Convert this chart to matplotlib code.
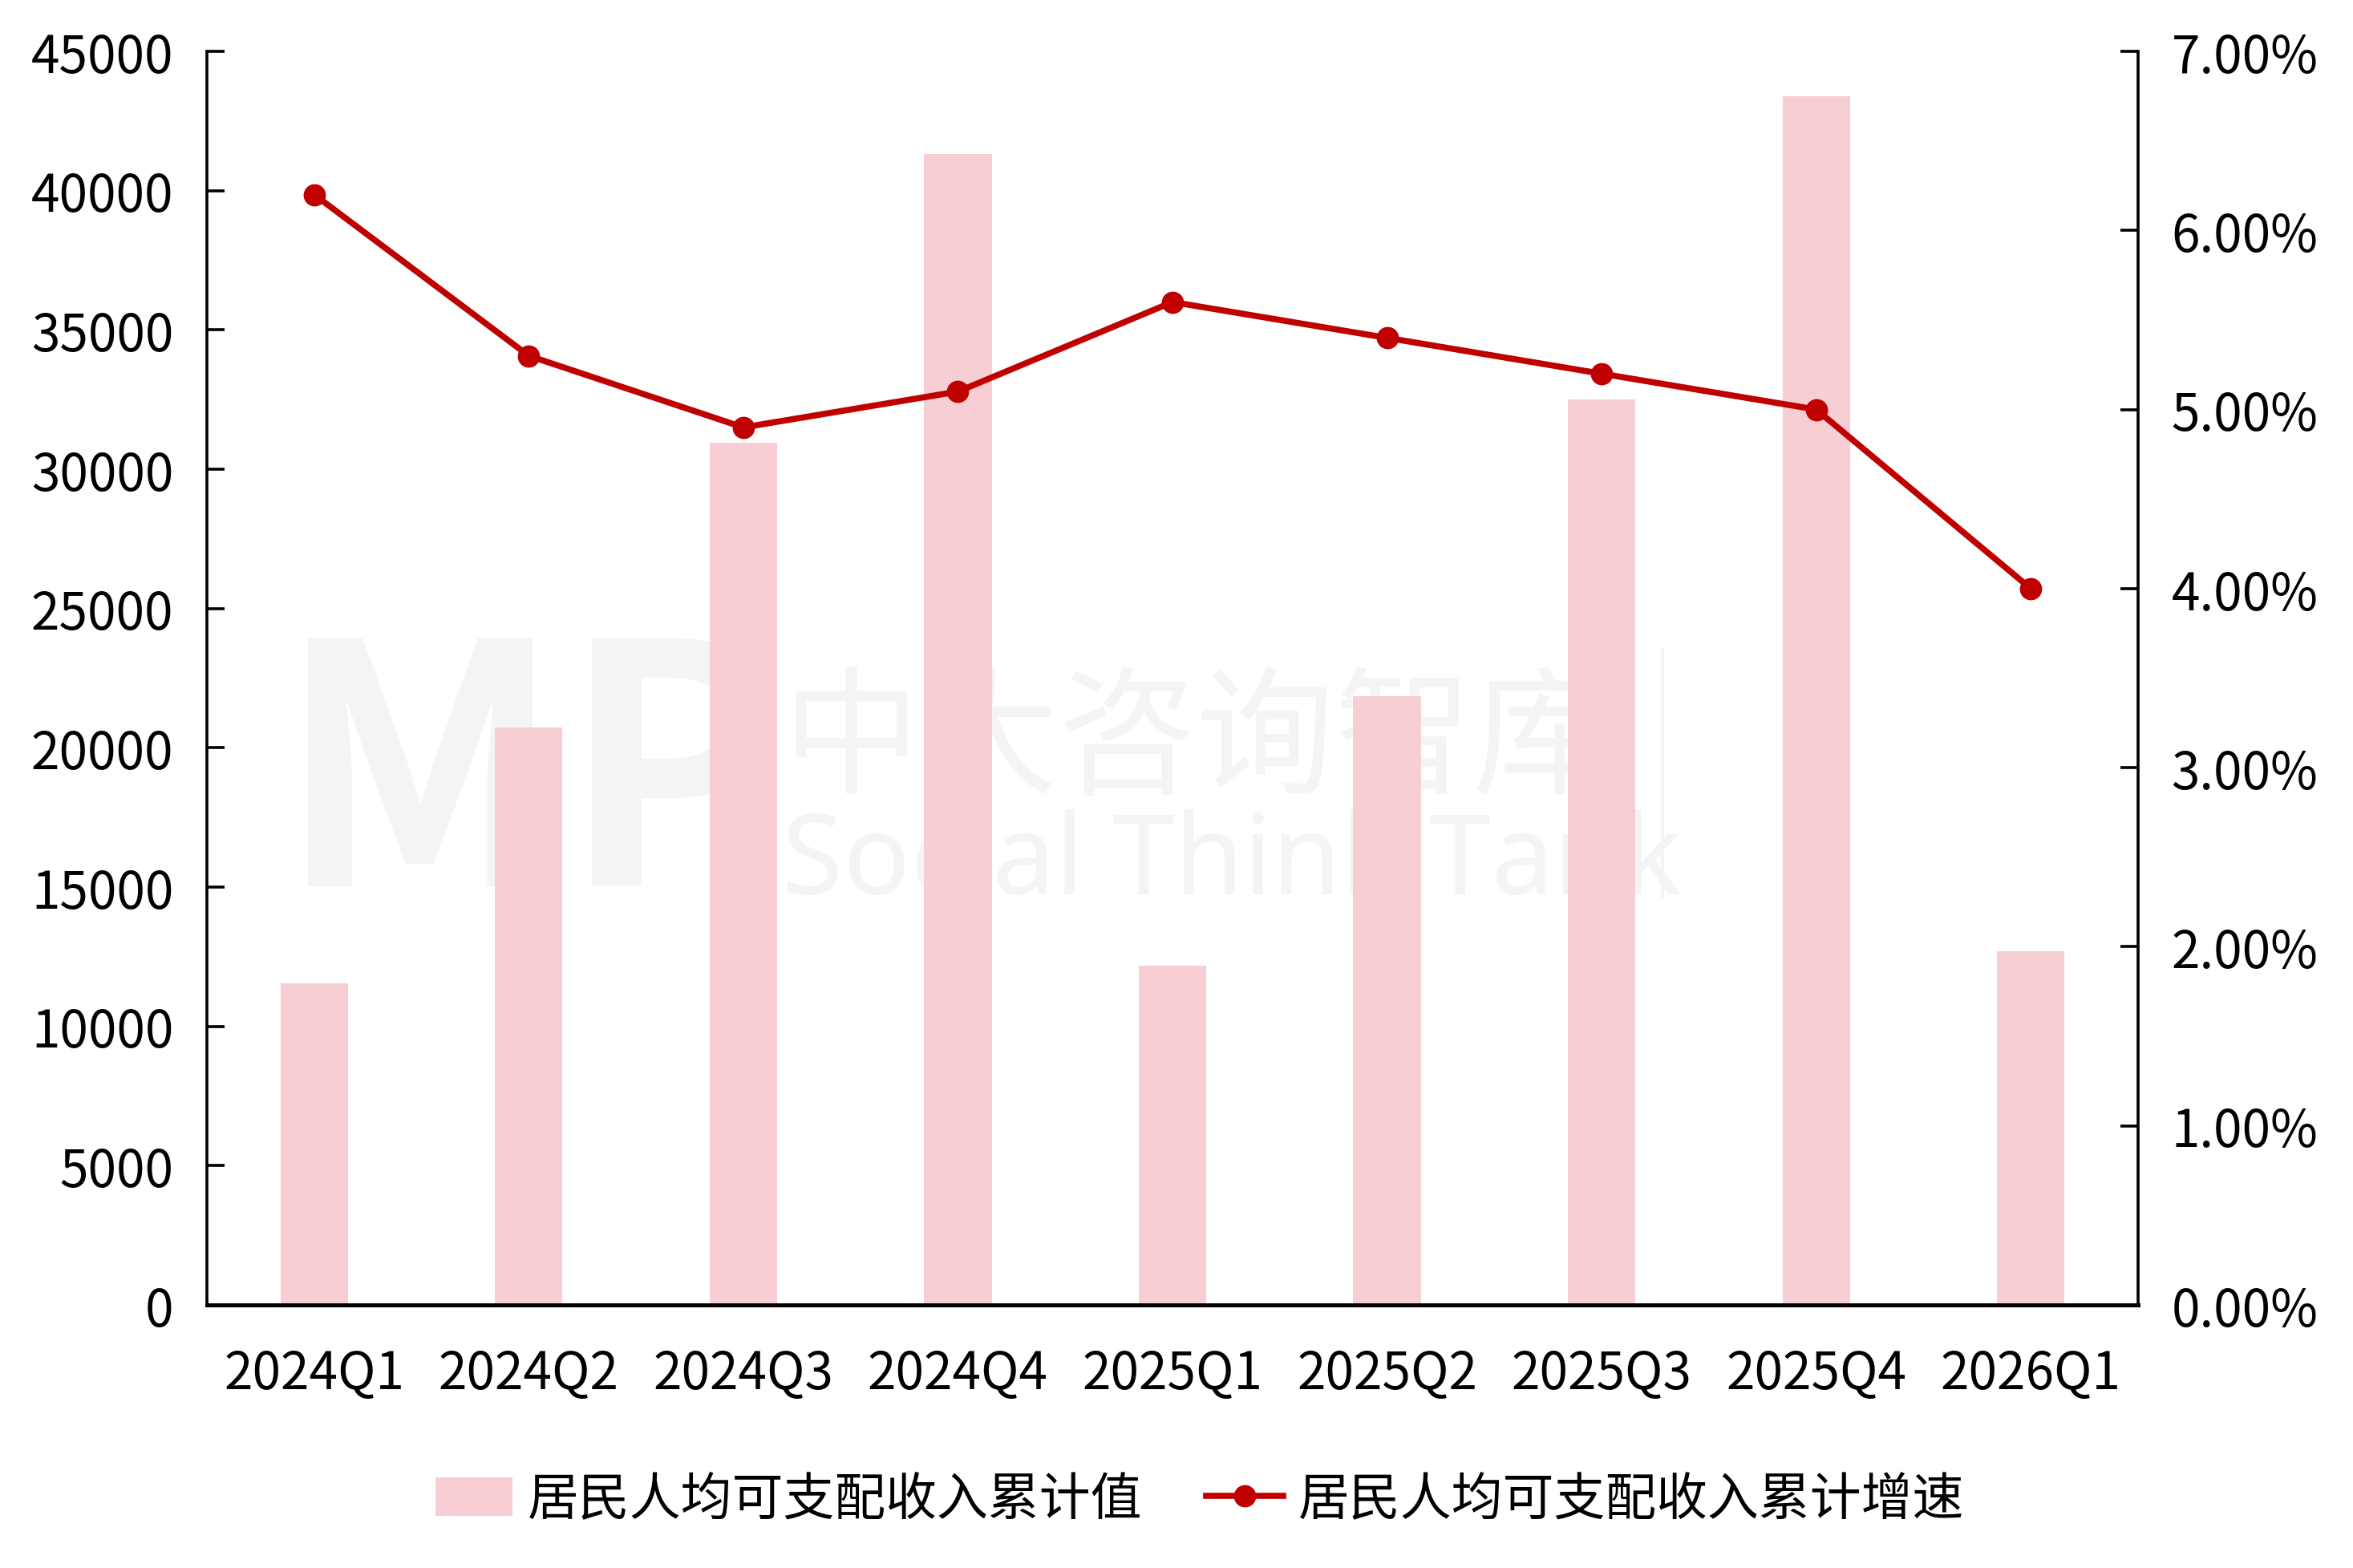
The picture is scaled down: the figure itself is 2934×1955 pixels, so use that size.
import matplotlib
matplotlib.use("Agg")
import matplotlib.pyplot as plt
from matplotlib.ticker import FuncFormatter, MultipleLocator
from matplotlib.lines import Line2D
from matplotlib.patches import Patch

plt.rcParams['font.family'] = ['Noto Sans CJK SC', 'DejaVu Sans']

categories = ["2024Q1", "2024Q2", "2024Q3", "2024Q4", "2025Q1",
              "2025Q2", "2025Q3", "2025Q4", "2026Q1"]
income_cum = [11539, 20733, 30941, 41314, 12179, 21840, 32509, 43377, 12700]
growth_pct = [6.2, 5.3, 4.9, 5.1, 5.6, 5.4, 5.2, 5.0, 4.0]
bar_label = "居民人均可支配收入累计值"
line_label = "居民人均可支配收入累计增速"

BAR_COLOR = "#F6CED3"
LINE_COLOR = "#C00000"
FS = 46
LW = 5.5
MS = 19
W, H = 2934, 1956

fig = plt.figure(figsize=(W / 100, H / 100), dpi=100)
ax = fig.add_axes([258 / W, 1 - 1628 / H, (2666 - 258) / W, (1628 - 65) / H])
ax.set_zorder(1)
ax.patch.set_visible(False)

# watermark (behind everything)
wm = "#F4F4F4"
fig.text(345 / W, 1 - 1105 / H, "MP", fontsize=300, fontweight="bold", color=wm,
         ha="left", va="baseline", zorder=0)
fig.text(975 / W, 1 - 975 / H, "中大咨询智库", fontsize=124, fontweight="medium",
         color=wm, ha="left", va="baseline", zorder=0)
fig.text(975 / W, 1 - 1115 / H, "Social Think Tank", fontsize=100, color=wm,
         ha="left", va="baseline", zorder=0, family="Noto Sans")
fig.add_artist(Line2D([2073 / W, 2073 / W], [1 - 810 / H, 1 - 1118 / H],
                      color=wm, lw=3, transform=fig.transFigure, zorder=0))

x = list(range(len(categories)))
ax.bar(x, income_cum, width=0.315, color=BAR_COLOR, zorder=2)
ax.set_xlim(-0.5, len(categories) - 0.5)
ax.set_ylim(0, 45000)
ax.yaxis.set_major_locator(MultipleLocator(5000))
ax.set_xticks(x)
ax.set_xticklabels(categories)

ax2 = ax.twinx()
ax2.set_zorder(2)
ax2.plot(x, growth_pct, color=LINE_COLOR, lw=LW, marker="o", markersize=MS,
         zorder=3)
ax2.set_ylim(0, 7)
ax2.yaxis.set_major_locator(MultipleLocator(1))
ax2.yaxis.set_major_formatter(FuncFormatter(lambda v, p: f"{v:.2f}%"))

for a in (ax, ax2):
    a.spines["top"].set_visible(False)
    for s in ("left", "right", "bottom"):
        a.spines[s].set_linewidth(2.6)
        a.spines[s].set_color("black")
ax.spines["right"].set_visible(False)
ax2.spines["left"].set_visible(False)
ax2.spines["bottom"].set_visible(False)
ax.spines["bottom"].set_linewidth(3.6)

ax.tick_params(axis="y", direction="in", length=16, width=2.6, labelsize=FS,
               pad=30)
ax.tick_params(axis="x", length=0, labelsize=FS, pad=38)
ax2.tick_params(axis="y", direction="in", length=16, width=2.6, labelsize=FS,
                pad=30)

handles = [Patch(facecolor=BAR_COLOR, edgecolor="none"),
           Line2D([0], [0], color=LINE_COLOR, lw=LW, marker="o", markersize=MS)]
fig.legend(handles, [bar_label, line_label], loc="center",
           bbox_to_anchor=(0.51, 1 - 1871 / H), ncol=2, frameon=False,
           fontsize=FS, handlelength=1.5, handleheight=0.8,
           handletextpad=0.3, columnspacing=1.25)

fig.savefig("out.png", dpi=100, facecolor="white")
